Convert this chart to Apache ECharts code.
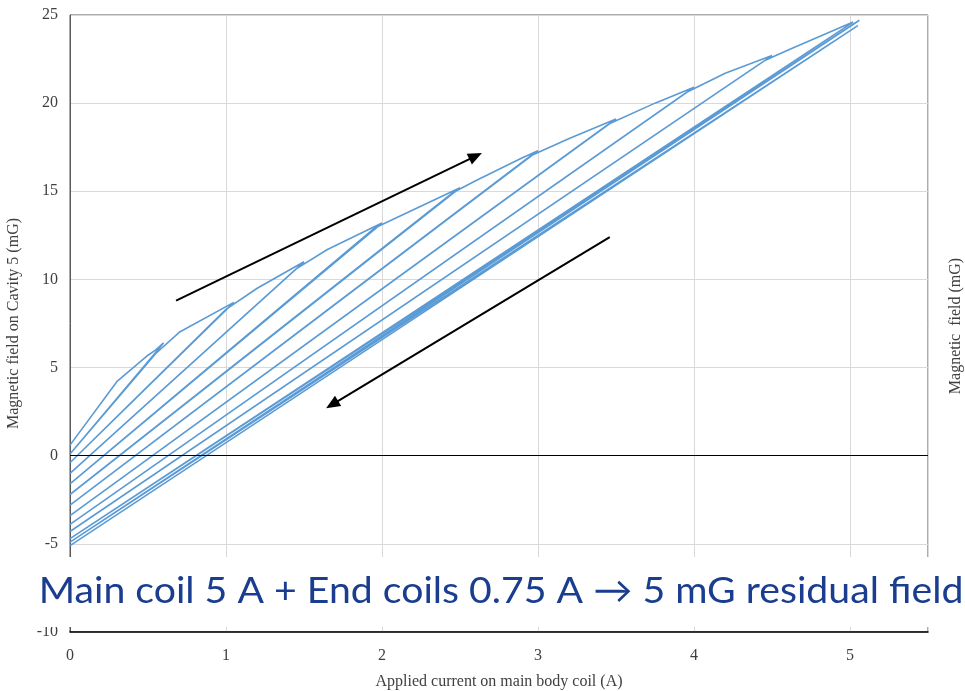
<!DOCTYPE html>
<html>
<head>
<meta charset="utf-8">
<script src="https://cdn.jsdelivr.net/npm/echarts@6/dist/echarts.min.js"></script>
<style>
  html, body { margin: 0; padding: 0; background: #fff; }
  #main { width: 965px; height: 691px; }
</style>
</head>
<body>
<div id="main"></div>
<script>
// applied current on main body coil (A), read along the measured path
var current = [
    0, 0.3, 0.5, 0.55, 0.6, 0,
    0.55, 0.7, 1.05, 0,
    1.0, 1.2, 1.5, 0,
    1.45, 1.65, 2.0, 0,
    1.95, 2.5, 0,
    2.45, 2.6, 2.9, 3.0, 0,
    2.95, 3.2, 3.5, 0,
    3.45, 3.75, 4.0, 0,
    3.95, 4.2, 4.5, 0,
    4.45, 4.6, 5.02, 0,
    5.06, 0,
    5.05, 0
];
// magnetic field on cavity 5 (mG)
var field = [
    0.6, 4.2, 5.7, 6.0, 6.4, 0.1,
    5.8, 7.0, 8.7, -0.4,
    8.3, 9.5, 11.0, -1.0,
    10.6, 11.7, 13.2, -1.6,
    12.9, 15.2, -2.2,
    14.9, 15.6, 16.9, 17.3, -2.8,
    17.0, 18.0, 19.1, -3.4,
    18.8, 20.0, 20.9, -3.9,
    20.6, 21.7, 22.7, -4.3,
    22.4, 23.0, 24.6, -4.7,
    24.7, -4.9,
    24.4, -5.1
];
// direction arrows [from, to] in axis units
var upArrow = [[0.68, 8.8], [2.6, 17.0]];
var downArrow = [[3.46, 12.4], [1.68, 2.9]];

var xTicks = { min: 0, max: 5.5, interval: 1 };
var yTicks = { min: -10, max: 25, interval: 5 };

var myChart = echarts.init(document.getElementById('main'));

var points = [];
for (var i = 0; i < current.length; i++) {
    points.push([current[i], field[i]]);
}

var serif = 'Liberation Serif';

var option = {
    animation: false,
    grid: {
        left: 70,
        right: 37,
        top: 15,
        bottom: 59,
        outerBoundsMode: 'none',
        containLabel: false,
        show: true,
        borderColor: '#595959',
        borderWidth: 1
    },
    xAxis: {
        type: 'value',
        min: xTicks.min,
        max: xTicks.max,
        interval: xTicks.interval,
        name: 'Applied current on main body coil (A)',
        nameLocation: 'middle',
        nameGap: 42,
        nameTextStyle: { fontFamily: serif, fontSize: 16, color: '#404040' },
        axisLine: { onZero: false, lineStyle: { color: '#000', width: 1.5 } },
        axisTick: { show: false },
        axisLabel: {
            fontFamily: serif, fontSize: 16, color: '#404040', margin: 16,
            showMaxLabel: false
        },
        splitLine: { show: true, lineStyle: { color: '#d9d9d9', width: 1 } }
    },
    yAxis: {
        type: 'value',
        min: yTicks.min,
        max: yTicks.max,
        interval: yTicks.interval,
        name: 'Magnetic field on Cavity 5 (mG)',
        nameLocation: 'middle',
        nameGap: 48,
        nameTextStyle: { fontFamily: serif, fontSize: 16, color: '#404040' },
        axisLine: { show: true, lineStyle: { color: '#595959', width: 1 } },
        axisTick: { show: false },
        axisLabel: { fontFamily: serif, fontSize: 16, color: '#404040', margin: 12 },
        splitLine: { show: true, lineStyle: { color: '#d9d9d9', width: 1 } }
    },
    series: [
        {
            type: 'line',
            data: points,
            showSymbol: false,
            symbol: 'none',
            lineStyle: { color: '#5B9BD5', width: 1.6 },
            markLine: {
                silent: true,
                animation: false,
                symbol: ['none', 'none'],
                label: { show: false },
                data: [
                    { yAxis: 0, lineStyle: { color: '#000', width: 1.2, type: 'solid' } },
                    [
                        { coord: upArrow[0], symbol: 'none', lineStyle: { color: '#000', width: 2, type: 'solid' } },
                        { coord: upArrow[1], symbol: 'triangle', symbolSize: [12, 14] }
                    ],
                    [
                        { coord: downArrow[0], symbol: 'none', lineStyle: { color: '#000', width: 2, type: 'solid' } },
                        { coord: downArrow[1], symbol: 'triangle', symbolSize: [12, 14] }
                    ]
                ]
            }
        }
    ],
    graphic: [
        {
            type: 'text',
            z: 50,
            x: 956,
            y: 326,
            rotation: Math.PI / 2,
            style: {
                text: 'Magnetic  field (mG)',
                fontFamily: serif,
                fontSize: 16,
                fill: '#404040',
                align: 'center',
                verticalAlign: 'middle'
            }
        },
        {
            type: 'rect',
            z: 100,
            shape: { x: 0, y: 557, width: 965, height: 70 },
            style: { fill: '#fff' }
        },
        {
            type: 'text',
            z: 101,
            x: 501,
            y: 591,
            scaleX: 1.06,
            style: {
                text: 'Main coil 5 A + End coils 0.75 A \u2192 5 mG residual field',
                fontFamily: 'Lato',
                fontSize: 37,
                fill: '#1a3d8f',
                align: 'center',
                verticalAlign: 'middle'
            }
        }
    ]
};

myChart.setOption(option);
</script>
</body>
</html>
